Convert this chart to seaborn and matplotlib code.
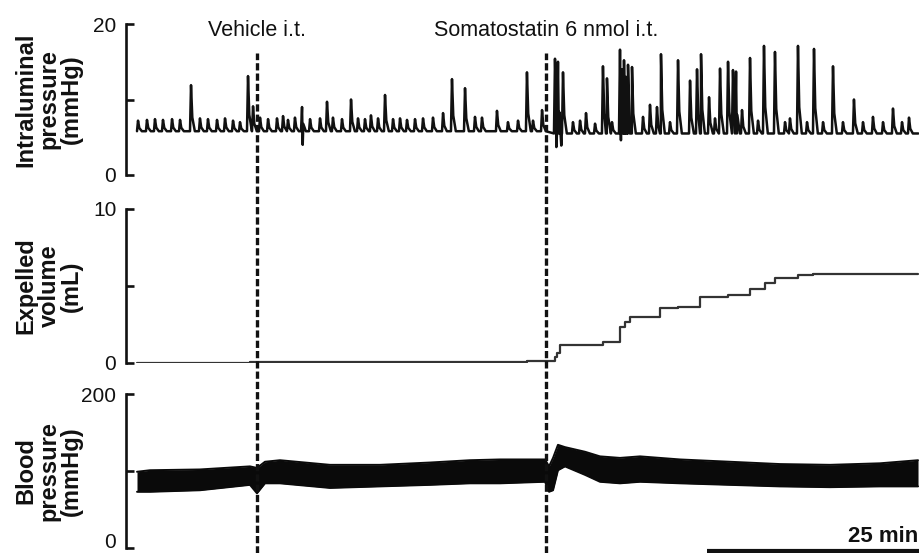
import numpy as np
import pandas as pd
import matplotlib
matplotlib.use("Agg")
import matplotlib.pyplot as plt
import seaborn as sns

# ---------------- data (time in minutes from start of recording) ----------------
vehicle_time = 14.1
somatostatin_time = 48.0
vehicle_label = "Vehicle i.t."
somatostatin_label = "Somatostatin 6 nmol i.t."
scale_bar_minutes = 25
scale_bar_label = "25 min"
record_end = 91.7

# Intraluminal pressure: contraction events (time, peak in mmHg)
ip_event_t = [0.12, 1.17, 2.11, 3.05, 4.11, 5.05, 6.34, 7.39, 8.33, 9.39, 10.33, 11.27,
              12.09, 13.03, 13.62, 14.44, 15.38, 16.43, 17.14, 17.72, 18.54, 19.37,
              20.31, 21.48, 22.30, 23.00, 24.06, 25.12, 25.94, 26.76, 27.46, 28.29,
              29.11, 30.05, 30.87, 31.69, 32.63, 33.57, 34.74, 35.92, 36.97, 38.50,
              39.67, 40.49, 42.25, 43.54, 44.72, 45.77, 46.48, 47.54, 49.06, 49.41,
              50.00, 51.17, 52.00, 52.70, 53.76, 54.69, 55.16, 55.75, 56.69, 56.92,
              57.16, 57.39, 57.63, 58.10, 59.39, 60.21, 61.03, 61.50, 62.56, 63.50,
              64.91, 65.73, 66.20, 67.14, 67.84, 68.43, 69.37, 69.95, 70.31, 71.01,
              71.95, 72.89, 73.59, 74.88, 76.06, 76.64, 77.58, 78.64, 79.46, 80.52,
              81.69, 82.86, 84.15, 85.21, 86.38, 87.56, 88.73, 89.79, 90.61]
ip_event_peak = [7.2, 7.3, 7.4, 7.3, 7.4, 7.3, 11.9, 7.5, 7.4, 7.3, 7.5, 7.2,
                 7.0, 13.1, 9.1, 7.6, 7.4, 7.5, 7.8, 7.3, 7.6, 9.0,
                 7.4, 7.5, 9.7, 7.6, 7.4, 10.0, 7.5, 7.4, 7.9, 7.5,
                 10.6, 7.4, 7.5, 7.3, 7.4, 7.5, 7.6, 8.2, 12.7, 11.5,
                 7.7, 7.6, 8.5, 7.0, 7.2, 13.6, 7.2, 8.6, 15.4, 15.0,
                 13.6, 7.0, 7.2, 8.2, 6.8, 14.4, 12.8, 7.0, 16.6, 14.0,
                 15.2, 13.0, 14.6, 14.3, 7.7, 9.3, 9.0, 16.0, 7.0, 15.2,
                 12.5, 14.0, 16.0, 10.3, 7.5, 14.1, 15.0, 13.9, 13.7, 8.6,
                 15.5, 7.2, 17.1, 16.3, 7.0, 7.5, 17.1, 7.0, 16.7, 7.0,
                 14.4, 7.0, 10.0, 7.0, 7.7, 7.0, 8.8, 7.0, 7.6]
ip_baseline_pre = 5.8
ip_baseline_post = 5.5
ip_dip_t = [19.45, 49.22, 49.80, 56.80]
ip_dip_v = [4.0, 3.7, 3.9, 4.6]

# Expelled volume (mL), cumulative steps
ev_t = [0.0, 13.26, 45.77, 49.06, 49.30, 49.65, 54.69, 56.69, 57.28, 57.86, 61.38,
        63.50, 66.08, 68.43, 69.37, 71.95, 73.71, 74.88, 77.58, 79.34, 91.67]
ev_v = [0.0, 0.05, 0.10, 0.40, 0.65, 1.20, 1.38, 2.36, 2.68, 2.98, 3.55,
        3.66, 4.27, 4.30, 4.42, 4.80, 5.21, 5.50, 5.71, 5.78, 5.78]

# Blood pressure (mmHg): upper / lower envelope of the pulsatile trace
bp_t = [0.0, 1.53, 7.39, 13.26, 14.08, 15.02, 16.78, 22.65, 28.52, 34.39, 39.08,
        42.61, 47.89, 48.36, 48.83, 49.41, 50.23, 52.58, 54.34, 56.69, 59.04,
        63.73, 69.60, 75.47, 81.34, 87.21, 91.67]
bp_upper = [99, 101, 102, 106, 104, 112, 114, 108, 108, 111, 114,
            115, 115, 106, 117, 134, 131, 125, 119, 117, 119,
            115, 112, 109, 108, 110, 114]
bp_lower = [73, 73, 75, 82, 71, 84, 84, 78, 80, 82, 84,
            84, 86, 73, 75, 101, 106, 95, 86, 84, 86,
            84, 82, 80, 79, 80, 80]

panel_labels = ["Intraluminal\npressure\n(mmHg)", "Expelled\nvolume\n(mL)",
                "Blood\npressure\n(mmHg)"]
panel_ymax = [20, 10, 200]

# ---------------- style ----------------
sns.set_theme(style="white")
plt.rcParams["font.family"] = ["Liberation Sans", "DejaVu Sans"]
plt.rcParams["lines.scale_dashes"] = False

W, H = 920, 553
fig = plt.figure(figsize=(W / 100, H / 100), dpi=100)

x_left_px, x0_px, px_per_min = 126, 137, 8.52
xlim = ((x_left_px - x0_px) / px_per_min, (W - x0_px) / px_per_min)

# axes pixel rows (top, bottom) for each panel
rows = [(24, 175), (209, 363), (394, 548)]
axes = []
for (top, bot) in rows:
    ax = fig.add_axes([x_left_px / W, (H - bot) / H, (W - x_left_px) / W, (bot - top) / H])
    axes.append(ax)

# ---- panel 1: intraluminal pressure ----
pts = []
for t, p in zip(ip_event_t, ip_event_peak):
    b = ip_baseline_pre if t < somatostatin_time else ip_baseline_post
    pts += [(t - 0.12, b), (t, p), (t + 0.15, b + 0.3 * (p - b)), (t + 0.45, b)]
for t, v in zip(ip_dip_t, ip_dip_v):
    pts.append((t, v))
pts.append((record_end, ip_baseline_post))
pts.sort(key=lambda q: q[0])
ip_df = pd.DataFrame(pts, columns=["t", "v"])
sns.lineplot(data=ip_df, x="t", y="v", ax=axes[0], color="#111111", lw=1.8,
             sort=False, estimator=None)

# ---- panel 2: expelled volume ----
ev_df = pd.DataFrame({"t": ev_t, "v": ev_v})
sns.lineplot(data=ev_df, x="t", y="v", ax=axes[1], color="#333333", lw=1.6,
             drawstyle="steps-post", estimator=None)

# ---- panel 3: blood pressure ----
bp_df = pd.DataFrame({"t": bp_t, "up": bp_upper, "lo": bp_lower})
axes[2].fill_between(bp_df["t"], bp_df["lo"], bp_df["up"], color="#0a0a0a", lw=0)
sns.lineplot(data=bp_df, x="t", y="up", ax=axes[2], color="#0a0a0a", lw=1.4, estimator=None)
sns.lineplot(data=bp_df, x="t", y="lo", ax=axes[2], color="#0a0a0a", lw=1.4, estimator=None)

for i, (ax, lab, ymax) in enumerate(zip(axes, panel_labels, panel_ymax)):
    ax.set_xlim(*xlim)
    ax.set_ylim(0, ymax)
    ax.set_facecolor("none")
    for s in ["top", "right", "bottom"]:
        ax.spines[s].set_visible(False)
    ax.spines["left"].set_linewidth(1.9)
    ax.spines["left"].set_color("#111111")
    ax.set_xticks([])
    ax.set_xlabel("")
    ax.set_yticks([0, ymax / 2, ymax])
    ax.set_yticklabels(["0", "", f"{ymax:g}"])
    ax.tick_params(axis="y", direction="in", length=5.5, width=1.9, color="#111111",
                   labelsize=15, pad=7, left=True, labelcolor="#111111")
    ax.set_ylabel(lab, fontsize=17, fontweight="bold", linespacing=0.98, color="#111111")
    ax.yaxis.set_label_coords(-0.054, 0.5)

# keep the lowest "0" fully inside the figure
axes[2].get_yticklabels()[0].set_verticalalignment("baseline")

# ---- overlay: injection markers, labels and scale bar ----
ov = fig.add_axes([x_left_px / W, 0, (W - x_left_px) / W, 1], facecolor="none")
ov.set_xlim(*xlim)
ov.set_ylim(0, 1)
ov.axis("off")
top_frac = (H - 53) / H
for tm in [vehicle_time, somatostatin_time]:
    ov.plot([tm, tm], [0, top_frac], color="#111111", lw=2.4, dashes=(5.2, 2.2),
            solid_capstyle="butt", dash_capstyle="butt")
text_y = (H - 31) / H
ov.text(vehicle_time, text_y, vehicle_label, ha="center", va="center", fontsize=15.5,
        color="#111111")
ov.text(somatostatin_time, text_y, somatostatin_label, ha="center", va="center",
        fontsize=15.5, color="#111111")
bar_end = xlim[1]
ov.plot([bar_end - scale_bar_minutes, bar_end], [2.5 / H, 2.5 / H], color="#111111",
        lw=3.0, solid_capstyle="butt", clip_on=False)
ov.text((918 - x0_px) / px_per_min, (H - 536) / H, scale_bar_label, ha="right",
        va="center", fontsize=16, fontweight="bold", color="#111111")

fig.savefig("out.png", dpi=100, facecolor="white")
